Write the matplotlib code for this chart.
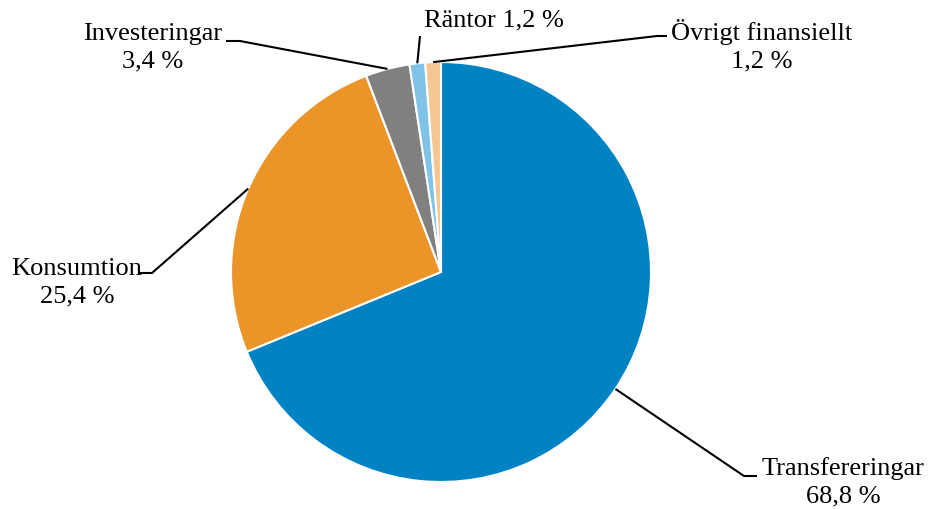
import numpy as np
import matplotlib
matplotlib.use("Agg")
import matplotlib.pyplot as plt

categories = ["Transfereringar", "Konsumtion", "Investeringar", "Räntor", "Övrigt finansiellt"]
values = [68.8, 25.4, 3.4, 1.2, 1.2]
value_labels = ["68,8 %", "25,4 %", "3,4 %", "1,2 %", "1,2 %"]
colors = ["#0082C3", "#EB9528", "#808080", "#7FC4E8", "#F6C692"]

W, H = 932, 509
plt.rcParams['font.family'] = ['Liberation Serif', 'DejaVu Sans']

fig = plt.figure(figsize=(W / 100, H / 100), dpi=100)
ax = fig.add_axes([0, 0, 1, 1])

cx, cy, r = 441, H - 272, 210
wedges, _ = ax.pie(values, colors=colors, startangle=90, counterclock=False,
                   center=(cx, cy), radius=r, frame=True,
                   wedgeprops=dict(edgecolor='white', linewidth=1.5))
ax.set_xlim(0, W)
ax.set_ylim(0, H)
ax.set_aspect('equal')
ax.axis('off')

def py(y):
    return H - y

# leader elbow / end points and label positions (pixel coords, y from top)
layout = [
    ((744, 476), (757, 476), (843, 482), "Transfereringar\n68,8 %"),
    ((152, 273), (140, 273), (77, 283), "Konsumtion\n25,4 %"),
    ((240, 41), (226, 41), (153, 48), "Investeringar\n3,4 %"),
    ((420, 36), (420, 36), (494, 20), "Räntor 1,2 %"),
    ((657, 36), (667, 36), (762, 46), "Övrigt finansiellt\n1,2 %"),
]

for w, (elbow, end, tpos, txt) in zip(wedges, layout):
    th = np.deg2rad((w.theta1 + w.theta2) / 2)
    x0 = cx + r * np.cos(th)
    y0 = cy + r * np.sin(th)
    ax.plot([x0, elbow[0], end[0]], [y0, py(elbow[1]), py(end[1])],
            color='black', linewidth=1.5, solid_capstyle='butt')
    ax.text(tpos[0], py(tpos[1]), txt, ha='center', va='center',
            multialignment='center', fontsize=19, linespacing=1.3, color='black')

fig.savefig("out.png", dpi=100)
